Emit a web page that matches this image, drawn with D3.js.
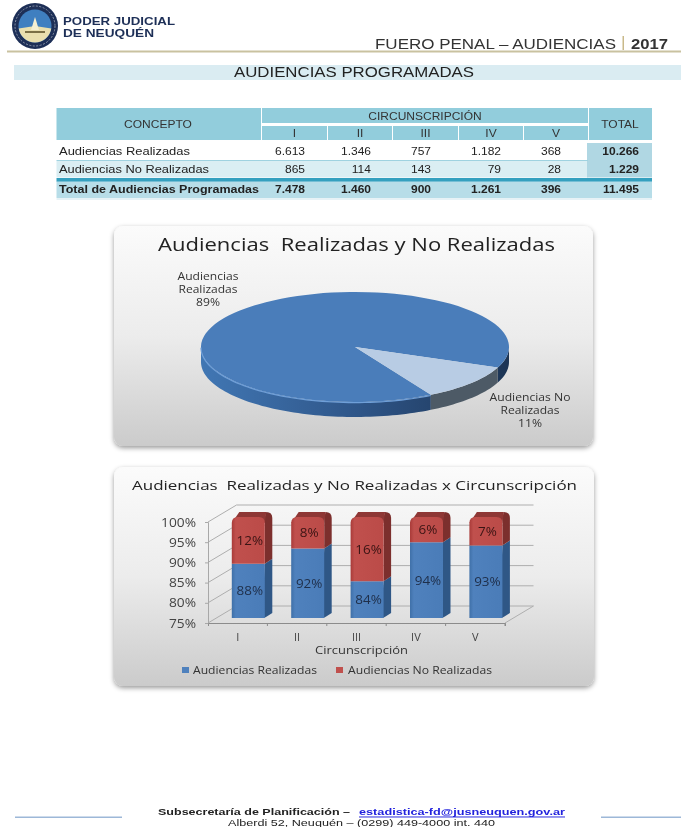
<!DOCTYPE html>
<html><head><meta charset="utf-8">
<script src="https://cdnjs.cloudflare.com/ajax/libs/d3/7.8.5/d3.min.js"></script>
<style>html,body{margin:0;padding:0;background:#fff;overflow:hidden}svg{display:block;filter:blur(0.55px)}text{white-space:pre}</style>
</head><body><svg id="c" width="681" height="827"></svg>
<script>
const circ = ["I","II","III","IV","V"];
const realizadas = [6613,1346,757,1182,368];
const noRealizadas = [865,114,143,79,28];
const totales = [7478,1460,900,1261,396];
const totalRealizadas = 10266, totalNoRealizadas = 1229, totalGeneral = 11495;
const pieLabels = ["Audiencias Realizadas","Audiencias No Realizadas"];
const pctTicks = [75,80,85,90,95,100];

const svg = d3.select("#c");
const defs = svg.append("defs");
const SANS="'Liberation Sans',Arial,sans-serif", CAL="'Open Sans',sans-serif";
const fmt = d3.formatLocale({decimal:",",thousands:".",grouping:[3],currency:["",""]}).format(",d");
function txt(p,x,y,s,o={}){
  const t=p.append("text").attr("x",x).attr("y",y).text(s)
    .attr("font-family",o.f||SANS).attr("font-size",o.s||10).attr("fill",o.c||"#222")
    .attr("font-weight",o.b?"bold":"normal").attr("text-anchor",o.a||"start")
    .attr("dominant-baseline","central");
  if(o.u) t.attr("text-decoration","underline");
  const w=o.w||(o.k?t.node().getComputedTextLength()*o.k:0);
  if(w) t.attr("textLength",w).attr("lengthAdjust","spacingAndGlyphs");
  return t;
}
function grad(id,stops,x1,y1,x2,y2,user){
  const g=defs.append("linearGradient").attr("id",id).attr("x1",x1).attr("y1",y1).attr("x2",x2).attr("y2",y2);
  if(user) g.attr("gradientUnits","userSpaceOnUse");
  stops.forEach(s=>g.append("stop").attr("offset",s[0]).attr("stop-color",s[1]));
}
grad("panel",[[0,"#fbfbfb"],[0.5,"#ececec"],[1,"#cbcbcb"]],0,0,0,1);
grad("wallB",[[0,"#4177b4"],[0.5,"#2f5689"],[1,"#1c3454"]],200,0,510,0,true);
grad("barB",[[0,"#3f70a8"],[0.12,"#4f81bd"],[1,"#4a7cb8"]],0,0,1,0);
grad("barR",[[0,"#a93b39"],[0.12,"#c0504d"],[1,"#bb4b48"]],0,0,1,0);
const sh=defs.append("filter").attr("id","shadow").attr("x","-5%").attr("y","-5%").attr("width","110%").attr("height","112%");
sh.append("feDropShadow").attr("dx",0).attr("dy",2).attr("stdDeviation",2.5).attr("flood-color","#000").attr("flood-opacity",0.4);

/* ---------- header ---------- */
const h=svg.append("g");
const logo=h.append("g").attr("transform","translate(35,26)");
logo.append("circle").attr("r",23).attr("fill","#1d2f57");
logo.append("circle").attr("r",20).attr("fill","none").attr("stroke","#8a94a8").attr("stroke-width",1).attr("stroke-dasharray","2 1.5");
logo.append("circle").attr("r",16.5).attr("fill","#3f7fc0");
logo.append("path").attr("d",d3.arc()({innerRadius:0,outerRadius:16.5,startAngle:Math.PI*0.55,endAngle:Math.PI*1.45})).attr("fill","#e9dfae");
logo.append("path").attr("d",d3.line()([[0,-9],[4,4],[-4,4]])).attr("fill","#f4efd2");
logo.append("rect").attr("x",-10).attr("y",5).attr("width",20).attr("height",2).attr("fill","#7a6f45");
txt(h,63,21,"PODER JUDICIAL",{b:1,s:10.5,c:"#1d2f57",w:112});
txt(h,63,33,"DE NEUQUÉN",{b:1,s:10.5,c:"#1d2f57",w:91});
h.append("rect").attr("x",7).attr("y",50.5).attr("width",674).attr("height",2).attr("fill","#c9c2a0");
txt(h,375,43.5,"FUERO PENAL – AUDIENCIAS",{s:14,c:"#333",w:241});
h.append("rect").attr("x",622.5).attr("y",36).attr("width",1.5).attr("height",14).attr("fill","#c9b98a");
txt(h,631,43.5,"2017",{s:14,b:1,c:"#333",w:37});
h.append("rect").attr("x",14).attr("y",65).attr("width",667).attr("height",15).attr("fill","#daecf2");
txt(h,234,72,"AUDIENCIAS PROGRAMADAS",{s:14,c:"#222",w:240});

/* ---------- table ---------- */
const t=svg.append("g");
const colX=[[262,327],[328,392],[393,458],[459,523],[524,588]];
const colR=[305,371,431,501,561];
const HEAD="#92cddc",ROW2="#daeef3",TOTC="#b0d7e3",TOTR="#b7dde8";
const rect=(x0,y0,x1,y1,c)=>t.append("rect").attr("x",x0).attr("y",y0).attr("width",x1-x0).attr("height",y1-y0).attr("fill",c);
rect(56.5,108,261,140,HEAD);rect(262,108,588,123,HEAD);rect(589,108,652,140,HEAD);
colX.forEach(c=>rect(c[0],126,c[1],140,HEAD));
rect(56.5,161,588,177.5,ROW2);
rect(587,143,652,177.5,TOTC);
rect(56.5,160,588,161,"#9fd2e0");
rect(56.5,181,652,198,TOTR);
rect(56.5,178,652,181.5,"#34a0bf");
rect(56.5,198.5,652,199.5,"#cfe6ee");
const K=1.2, TS=10;
txt(t,158,124,"CONCEPTO",{s:TS,a:"middle",c:"#333",k:K});
txt(t,425,116,"CIRCUNSCRIPCIÓN",{s:TS,a:"middle",c:"#333",k:K});
txt(t,620,124,"TOTAL",{s:TS,a:"middle",c:"#333",k:K});
circ.forEach((c,i)=>txt(t,(colX[i][0]+colX[i][1])/2,133,c,{s:TS,a:"middle",c:"#333",k:K}));
txt(t,59,151,"Audiencias Realizadas",{s:TS,w:131});
txt(t,59,169.5,"Audiencias No Realizadas",{s:TS,w:150});
txt(t,59,189,"Total de Audiencias Programadas",{s:TS,b:1,w:200});
circ.forEach((c,i)=>{
  txt(t,colR[i],151,fmt(realizadas[i]),{s:TS,a:"end",k:K});
  txt(t,colR[i],169.5,fmt(noRealizadas[i]),{s:TS,a:"end",k:K});
  txt(t,colR[i],189,fmt(totales[i]),{s:TS,a:"end",b:1,k:K});
});
txt(t,639,151,fmt(totalRealizadas),{s:TS,a:"end",b:1,k:K});
txt(t,639,169.5,fmt(totalNoRealizadas),{s:TS,a:"end",b:1,k:K});
txt(t,639,189,fmt(totalGeneral),{s:TS,a:"end",b:1,k:K});

/* ---------- pie ---------- */
const p=svg.append("g");
p.append("rect").attr("x",114).attr("y",226).attr("width",479).attr("height",220).attr("rx",9)
  .attr("fill","url(#panel)").attr("filter","url(#shadow)");
txt(p,158,244,"Audiencias  Realizadas y No Realizadas",{f:CAL,s:19,c:"#222",w:397});
const cx=355,cy=347,rx=154,ry=55,dep=15,rad=d=>d*Math.PI/180;
const slices=d3.pie().sort(null).startAngle(rad(150.5)).endAngle(rad(510.5))([totalRealizadas,totalNoRealizadas]);
const pt=(a,dz)=>[cx+rx*Math.sin(a),cy-ry*Math.cos(a)+dz];
const line=d3.line();
function wall(a0,a1){
  const n=Math.max(2,Math.ceil((a1-a0)/0.03));
  const s=d3.range(n+1).map(i=>a0+(a1-a0)*i/n);
  return line([...s.map(a=>pt(a,0)),...s.slice().reverse().map(a=>pt(a,dep))])+"Z";
}
const clipFront=(a0,a1,fn)=>{ // keep only the front half of the pie rim
  [[Math.PI/2,Math.PI*1.5],[Math.PI*2.5,Math.PI*3.5]].forEach(r=>{
    const u=Math.max(a0,r[0]),v=Math.min(a1,r[1]);
    if(v>u) fn(u,v);
  });
};
const pieFill=["#4a7dba","#b8cce4"],wallFill=["url(#wallB)","#4d5a66"];
slices.forEach((s,i)=>clipFront(s.startAngle,s.endAngle,(u,v)=>
  p.append("path").attr("d",wall(u,v)).attr("fill",wallFill[i])));
const arc=d3.arc().innerRadius(0).outerRadius(rx);
const pieTop=p.append("g").attr("transform",`translate(${cx},${cy}) scale(1,${ry/rx})`);
slices.forEach((s,i)=>pieTop.append("path").attr("d",arc(s)).attr("fill",pieFill[i]));
clipFront(slices[0].startAngle,slices[0].endAngle,(u,v)=>{
  if(u<Math.PI*2){
    const n=60,sm=d3.range(n+1).map(i=>pt(u+(v-u)*i/n,0.6));
    p.append("path").attr("d",line(sm)).attr("fill","none").attr("stroke","#6f9fd8").attr("stroke-width",1.2);
  }
});
const pct=v=>Math.round(v*100)+"%";
const lab={f:CAL,s:10,a:"middle",c:"#333"};
txt(p,208,276,"Audiencias",{...lab,w:61});txt(p,208,288.5,"Realizadas",{...lab,w:59});
txt(p,208,301.5,pct(totalRealizadas/totalGeneral),{...lab,w:24});
txt(p,530,397,"Audiencias No",{...lab,w:81});txt(p,530,409.5,"Realizadas",{...lab,w:59});
txt(p,530,423,pct(totalNoRealizadas/totalGeneral),{...lab,w:24});

/* ---------- stacked 3D bars ---------- */
const b=svg.append("g");
b.append("rect").attr("x",114).attr("y",467).attr("width",480).attr("height",219).attr("rx",9)
  .attr("fill","url(#panel)").attr("filter","url(#shadow)");
txt(b,132,485,"Audiencias  Realizadas y No Realizadas x Circunscripción",{f:CAL,s:13.5,c:"#222",w:445});
const X=d3.scaleBand().domain(circ).range([208,505]);
const Y=d3.scaleLinear().domain([75,100]).range([623,522]);
const wx=28.5,wy=-17; // depth of the back wall
const g3=b.append("g").attr("stroke","#aeaeae").attr("fill","none").attr("stroke-width",1);
pctTicks.forEach(v=>{
  g3.append("path").attr("d",line([[208,Y(v)],[208+wx,Y(v)+wy],[505+wx,Y(v)+wy]]));
});
g3.append("path").attr("d",line([[505,623],[505+wx,623+wy]]));
const axY=b.append("g").attr("transform","translate(208,0)").call(d3.axisLeft(Y).tickValues(pctTicks).tickSize(3).tickPadding(9).tickFormat(d=>d+"%"));
axY.select(".domain").attr("stroke","#a8a8a8");axY.selectAll("line").attr("stroke","#a8a8a8");
axY.selectAll("text").attr("font-family",CAL).attr("font-size",12.5).attr("fill","#444")
  .each(function(){const s=d3.select(this);s.attr("textLength",this.getComputedTextLength()*1.1).attr("lengthAdjust","spacingAndGlyphs");});
const axX=b.append("g").attr("transform","translate(0,623)").call(d3.axisBottom(X).tickSize(3).tickPadding(7));
axX.select(".domain").attr("stroke","#8c8c8c");
axX.selectAll("line").attr("stroke","#8c8c8c").attr("x1",X.bandwidth()/2).attr("x2",X.bandwidth()/2);
axX.selectAll("text").attr("font-family",CAL).attr("font-size",11).attr("fill","#444");
const bw=33,dx=7.5,dy=-5,fy=v=>Y(v)-5;
circ.forEach((c,i)=>{
  const x0=X(c)+X.bandwidth()/2+10.6-bw/2, x1=x0+bw, s=realizadas[i]/totales[i]*100;
  const ys=fy(s),yb=fy(75),yt=fy(100),r=6;
  b.append("path").attr("d",`M${x1-3},${yb}Q${x1},${yb} ${x1+2},${yb-1.5}L${x1+dx},${yb+dy}V${ys+dy}L${x1},${ys}Z`).attr("fill","#2f5786");
  b.append("path").attr("d",`M${x1},${ys}L${x1+dx},${ys+dy}V${yt+dy+r}Q${x1+dx},${yt+dy} ${x1+dx-r},${yt+dy}L${x1},${yt}Z`).attr("fill","#7c2f2d");
  b.append("path").attr("d",`M${x0},${yt+r}L${x0+dx},${yt+dy}H${x1+dx-r}L${x1},${yt+r}Z`).attr("fill","#8e3735");
  b.append("path").attr("d",`M${x0},${yb}V${ys}H${x1}V${yb}Z`).attr("fill","url(#barB)");
  b.append("path").attr("d",`M${x0},${ys}V${yt+r}Q${x0},${yt} ${x0+r},${yt}H${x1-r}Q${x1},${yt} ${x1},${yt+r}V${ys}Z`).attr("fill","url(#barR)");
  const cxb=(x0+x1)/2+1.5;
  const l={f:CAL,s:12,a:"middle",c:"#1f2f4a",k:1.12};
  txt(b,cxb,(ys+yb)/2,Math.round(s)+"%",l);
  txt(b,cxb,(ys+yt)/2,Math.round(100-s)+"%",{...l,c:"#3a1414"});
});
txt(b,361.5,650,"Circunscripción",{f:CAL,s:10.5,a:"middle",c:"#333",w:93});
b.append("rect").attr("x",182).attr("y",667).attr("width",7).attr("height",6).attr("fill","#4f81bd");
txt(b,193,670,pieLabels[0],{f:CAL,s:10.5,c:"#333",w:124});
b.append("rect").attr("x",336).attr("y",667).attr("width",7).attr("height",6).attr("fill","#c0504d");
txt(b,348,670,pieLabels[1],{f:CAL,s:10.5,c:"#333",w:144});

/* ---------- footer ---------- */
const f=svg.append("g");
f.append("rect").attr("x",15).attr("y",816.5).attr("width",107).attr("height",1.5).attr("fill","#9db8d8");
f.append("rect").attr("x",601).attr("y",816.5).attr("width",80).attr("height",1.5).attr("fill","#9db8d8");
txt(f,158,811,"Subsecretaría de Planificación –",{s:9.5,b:1,w:192});
txt(f,359,811,"estadistica-fd@jusneuquen.gov.ar",{s:9.5,b:1,c:"#2222dd",u:1,w:206});
txt(f,228,822.5,"Alberdi 52, Neuquén – (0299) 449-4000 int. 440",{s:9.5,w:267});
</script></body></html>
